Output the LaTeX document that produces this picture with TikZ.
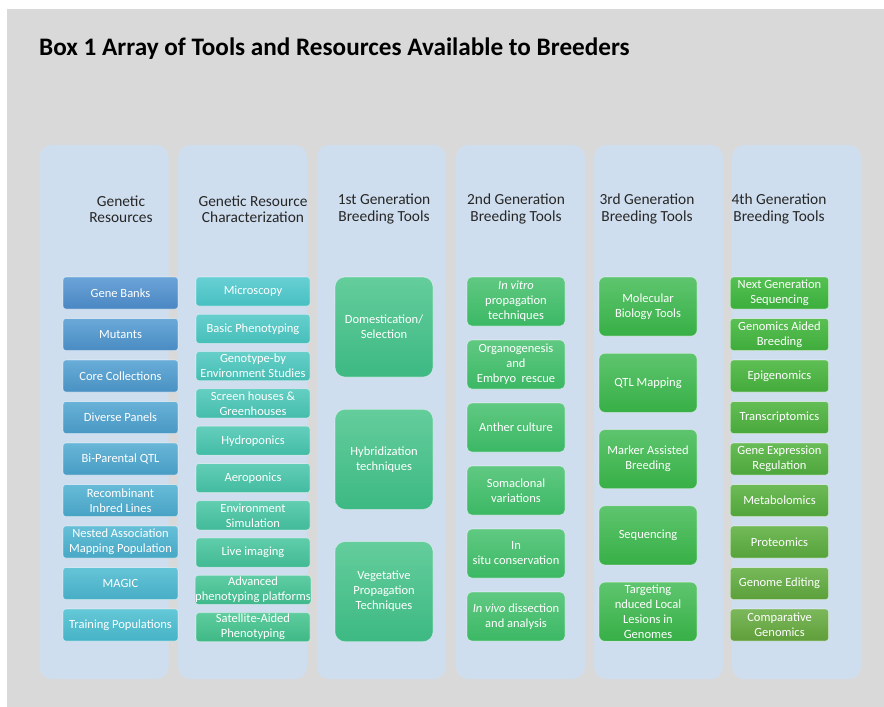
\documentclass[tikz,border=0pt]{standalone}
\usepackage{fontspec}
\setmainfont{Carlito}
\usetikzlibrary{positioning}

\definecolor{pagegray}{HTML}{D9D9D9}
\definecolor{lanefill}{HTML}{CFDEEE}
\definecolor{headtext}{HTML}{262626}
\definecolor{blueT}{HTML}{6BA4D8}
\definecolor{blueB}{HTML}{4A86C2}
\definecolor{cyanT}{HTML}{64C8D7}
\definecolor{cyanB}{HTML}{46B3C6}
\definecolor{tealT}{HTML}{68D0D5}
\definecolor{tealB}{HTML}{47BFC0}
\definecolor{mintT}{HTML}{5ECC9E}
\definecolor{mintB}{HTML}{3FB886}
\definecolor{seaT}{HTML}{64CD9C}
\definecolor{seaB}{HTML}{3DB983}
\definecolor{leafT}{HTML}{60C982}
\definecolor{leafB}{HTML}{3BB864}
\definecolor{grassT}{HTML}{5EC56E}
\definecolor{grassB}{HTML}{37AF46}
\definecolor{limeT}{HTML}{55C152}
\definecolor{limeB}{HTML}{3AAE3C}
\definecolor{oliveT}{HTML}{7CB85B}
\definecolor{oliveB}{HTML}{5F9E3A}

\tikzset{
  lane/.style={fill=lanefill, rounded corners=12pt},
  lanehead/.style={font=\fontsize{15.4}{16.5}\selectfont, text=headtext, align=center},
  tool/.style={draw=white, draw opacity=0.45, line width=0.6pt, rounded corners=3pt,
    text=white, font=\fontsize{12.5}{15}\selectfont, align=center, inner sep=0pt},
  bigtool/.style={tool, rounded corners=10pt},
}

\begin{document}
\begin{tikzpicture}[x=1pt, y=-1pt]
  \useasboundingbox (0,0) rectangle (884,707);
  \fill[white] (0,0) rectangle (884,707);
  \fill[pagegray] (7,9) rectangle (884,707);

  \node[anchor=west, inner sep=0pt, font=\fontsize{25.2}{28}\bfseries\selectfont, text=black] (title) at (39,49)
    {Box 1 Array of Tools and Resources Available to Breeders};

  % Lanes
  \foreach \x [count=\i] in {39.5, 178, 317, 456, 594, 732}
    \fill[lane] (\x,145) rectangle ++(129,534);

  \node[lanehead] (h1) at (121,209) {Genetic\\Resources};
  \node[lanehead] (h2) at (253,209) {Genetic Resource\\Characterization};
  \node[lanehead] (h3) at (384,209) {1st Generation\\Breeding Tools};
  \node[lanehead] (h4) at (516,209) {2nd Generation\\Breeding Tools};
  \node[lanehead] (h5) at (647,209) {3rd Generation\\Breeding Tools};
  \node[lanehead] (h6) at (779,209) {4th Generation\\Breeding Tools};

  % Genetic resources
  \foreach \txt [count=\i from 0] in {Gene Banks, Mutants, Core Collections, Diverse Panels,
      Bi-Parental QTL, {Recombinant\\Inbred Lines}, {Nested Association\\Mapping Population},
      MAGIC, Training Populations} {
    \pgfmathtruncatemacro\pct{100-\i*100/8}
    \node[tool, minimum width=115pt, minimum height=32pt,
      top color=blueT!\pct!cyanT, bottom color=blueB!\pct!cyanB] (res\i) at (120.5,293+41.5*\i) {\txt};
  }

  % Characterization
  \foreach \txt [count=\i from 0] in {Microscopy, Basic Phenotyping, {Genotype-by\\Environment Studies},
      {Screen houses \&\\Greenhouses}, Hydroponics, Aeroponics, {Environment\\Simulation},
      Live imaging, {Advanced\\phenotyping platforms}, {Satellite-Aided\\Phenotyping}} {
    \pgfmathtruncatemacro\pct{100-\i*100/9}
    \node[tool, minimum width=114pt, minimum height=29pt,
      top color=tealT!\pct!mintT, bottom color=tealB!\pct!mintB] (chr\i) at (253,291.5+37.3*\i) {\txt};
  }

  % 1st generation
  \foreach \txt [count=\i from 0] in {{Domestication/\\Selection}, {Hybridization\\techniques},
      {Vegetative\\Propagation\\Techniques}}
    \node[bigtool, minimum width=98pt, minimum height=100pt,
      top color=seaT, bottom color=seaB] (gen1\i) at (384,327+132.3*\i) {\txt};

  % 2nd generation
  \foreach \txt [count=\i from 0] in {{\textit{In vitro}\\propagation\\techniques},
      {Organogenesis\\and\\Embryo\ \ rescue}, Anther culture, {Somaclonal\\variations},
      {In\\situ conservation}, {\textit{In vivo} dissection\\and analysis}}
    \node[tool, rounded corners=5pt, minimum width=98pt, minimum height=49pt,
      top color=leafT, bottom color=leafB] (gen2\i) at (516,301.5+63*\i) {\txt};

  % 3rd generation
  \foreach \txt [count=\i from 0] in {{Molecular\\Biology Tools}, QTL Mapping,
      {Marker Assisted\\Breeding}, Sequencing, {Targeting\\nduced Local\\Lesions in\\Genomes}}
    \node[tool, rounded corners=6pt, minimum width=98pt, minimum height=59pt,
      top color=grassT, bottom color=grassB] (gen3\i) at (648,306.5+76.3*\i) {\txt};

  % 4th generation
  \foreach \txt [count=\i from 0] in {{Next Generation\\Sequencing}, {Genomics Aided\\Breeding},
      Epigenomics, Transcriptomics, {Gene Expression\\Regulation}, Metabolomics, Proteomics,
      Genome Editing, {Comparative\\Genomics}} {
    \pgfmathtruncatemacro\pct{100-\i*100/8}
    \node[tool, minimum width=98pt, minimum height=32pt,
      top color=limeT!\pct!oliveT, bottom color=limeB!\pct!oliveB] (gen4\i) at (779.5,293+41.5*\i) {\txt};
  }
\end{tikzpicture}
\end{document}
